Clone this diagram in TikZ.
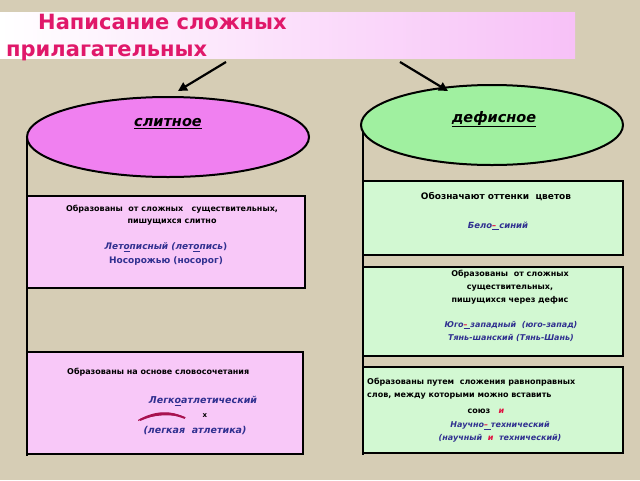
\documentclass[tikz,border=0pt]{standalone}
\usepackage{fontspec}
\setmainfont{DejaVu Sans}
\usetikzlibrary{arrows.meta,shapes.geometric}
\definecolor{bg}{HTML}{D6CDB5}
\definecolor{ttl}{HTML}{E0186A}
\definecolor{vio}{HTML}{F080F0}
\definecolor{lpink}{HTML}{F8C8F8}
\definecolor{grn}{HTML}{A0F0A0}
\definecolor{lgrn}{HTML}{D2F8D2}
\definecolor{ex}{HTML}{303090}
\definecolor{rd}{HTML}{E01040}
\tikzset{
 box/.style={draw=black,line width=2pt},
 txt/.style={font=\bfseries\fontsize{9}{13}\selectfont,align=center,inner sep=0pt},
 exs/.style={text=ex,font=\bfseries\itshape\fontsize{9.5}{14}\selectfont,align=center,inner sep=0pt},
 arr/.style={line width=2.2pt,-{Triangle[length=9pt,width=9pt]}}
}
\newcommand{\dsh}{\underline{\textcolor{rd}{ – }}}
\begin{document}
\begin{tikzpicture}[x=1pt,y=-1pt]
\fill[bg] (0,0) rectangle (640,480);
\useasboundingbox (0,0) rectangle (640,480);
% title band
\shade[left color=white,right color=lpink!90!vio] (0,12) rectangle (575,58);
\node[anchor=west,text=ttl,font=\bfseries\fontsize{21}{26}\selectfont,inner sep=0pt] (t1) at (38,22) {Написание сложных};
\node[anchor=west,text=ttl,font=\bfseries\fontsize{21}{26}\selectfont,inner sep=0pt] (t2) at (6,53) {прилагательных};
% vertical lines
\draw[line width=1.8pt] (27,137) -- (27,456);
\draw[line width=1.8pt] (363,125) -- (363,455);
% ellipses
\node[draw,line width=2pt,fill=vio,ellipse,minimum width=282pt,minimum height=80pt,inner sep=0pt] (el) at (168,137) {};
\node[font=\bfseries\itshape\fontsize{14.5}{18}\selectfont] (lt) at (168,124) {\underline{слитное}};
\node[draw,line width=2pt,fill=grn,ellipse,minimum width=262pt,minimum height=80pt,inner sep=0pt] (er) at (492,125) {};
\node[font=\bfseries\itshape\fontsize{14.5}{18}\selectfont] (rt) at (494,119) {\underline{дефисное}};
\coordinate (a1) at (226,62); \coordinate (a2) at (400,62);
\draw[arr] (a1) -- (178,91);
\draw[arr] (a2) -- (448,91);
% left boxes
\draw[box,fill=lpink] (27,196) rectangle (305,288);
\node[txt,font=\bfseries\fontsize{8}{12}\selectfont] (lb1) at (172,215) {Образованы \ от сложных \ \ существительных,\\пишущихся слитно};
\node[exs,font=\bfseries\fontsize{9}{14}\selectfont] (lb1e) at (166,254) {\textit{Лет\underline{о}писный (лет\underline{о}пись})\\Носорожью (носорог)};
\draw[box,fill=lpink] (27,352) rectangle (303,454);
\node[txt,anchor=west,font=\bfseries\fontsize{8}{12}\selectfont] (lb2) at (67,372) {Образованы на основе словосочетания};
\node[exs] (lb2e) at (203,401) {Легк\underline{о}атлетический};
\node[font=\bfseries\fontsize{7}{8}\selectfont,inner sep=0pt] (x) at (205,416) {x};
\fill[color=ttl!75!black] (138,420) .. controls (155,410) and (172,410) .. (186,418) .. controls (172,414) and (155,414) .. (138,421) -- cycle;
\draw[line width=2pt,color=ttl!75!black] (140,420) .. controls (158,412) and (170,412) .. (185,418);
\node[exs] (lb2f) at (195,431) {(легкая \ атлетика)};
% right boxes
\draw[box,fill=lgrn] (363,181) rectangle (623,255);
\node[txt] (rb1) at (496,197) {Обозначают оттенки \ цветов};
\node[exs,font=\bfseries\itshape\fontsize{8.5}{13}\selectfont] (rb1e) at (498,226) {Бело\dsh синий};
\draw[box,fill=lgrn] (363,267) rectangle (623,356);
\node[txt,font=\bfseries\fontsize{8}{13}\selectfont] (rb2) at (510,287) {Образованы \ от сложных\\существительных,\\пишущихся через дефис};
\node[exs,font=\bfseries\itshape\fontsize{8}{13}\selectfont] (rb2e) at (511,331) {Юго\dsh западный \ (юго-запад)\\Тянь-шанский (Тянь-Шань)};
\draw[box,fill=lgrn] (363,367) rectangle (623,453);
\node[txt,anchor=north west,align=left,font=\bfseries\fontsize{8}{13}\selectfont] (rb3) at (367,378) {Образованы путем \ сложения равноправных\\слов, между которыми можно вставить};
\node[txt,font=\bfseries\fontsize{8}{13}\selectfont] (rb3s) at (486,411) {союз \ \ \textcolor{rd}{\itshape и}};
\node[exs,font=\bfseries\itshape\fontsize{8}{13}\selectfont] (rb3e) at (500,432) {Научно\dsh технический\\(научный \ \textcolor{rd}{и} \ технический)};
\end{tikzpicture}
\end{document}
